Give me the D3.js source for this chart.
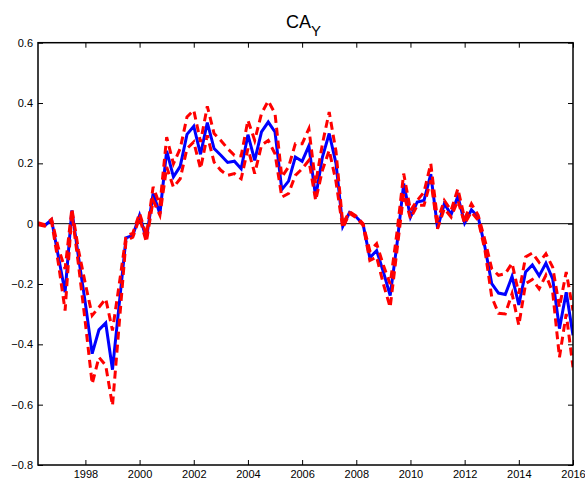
<!DOCTYPE html>
<html>
<head>
<meta charset="utf-8">
<script src="https://cdn.jsdelivr.net/npm/d3@7"></script>
<style>
  html, body { margin: 0; padding: 0; background: #fff; }
  svg { display: block; font-family: "Liberation Sans", Arial, Helvetica, sans-serif; }
</style>
</head>
<body>
<svg id="chart" width="585" height="481"></svg>
<script>
// Quarterly sample: first quarter 1996Q2, 80 quarters through 2016Q1
const firstQuarter = 1996.25;
const nQuarters = 80;
const quarters = d3.range(nQuarters).map(i => firstQuarter + i / 4);

// Point estimate of CA_Y
const estimate = [
  0.000, -0.006, 0.013, -0.108, -0.227, 0.044, -0.114, -0.265, -0.431, -0.352,
  -0.329, -0.484, -0.265, -0.047, -0.039, 0.028, -0.050, 0.100, 0.033, 0.241,
  0.155, 0.190, 0.296, 0.323, 0.230, 0.335, 0.249, 0.227, 0.203, 0.207,
  0.182, 0.295, 0.210, 0.304, 0.337, 0.304, 0.113, 0.141, 0.221, 0.207,
  0.258, 0.088, 0.221, 0.299, 0.200, -0.009, 0.037, 0.022, -0.002, -0.113,
  -0.089, -0.160, -0.238, -0.070, 0.133, 0.022, 0.072, 0.077, 0.164, -0.014,
  0.066, 0.030, 0.091, 0.002, 0.046, 0.022, -0.078, -0.199, -0.230, -0.235,
  -0.175, -0.269, -0.160, -0.137, -0.173, -0.131, -0.183, -0.348, -0.227, -0.370
];

// Upper band
const upperBand = [
  0.003, -0.003, 0.015, -0.080, -0.150, 0.050, -0.090, -0.200, -0.304, -0.277,
  -0.249, -0.354, -0.200, -0.040, -0.032, 0.035, -0.040, 0.122, 0.061, 0.287,
  0.199, 0.249, 0.354, 0.376, 0.271, 0.389, 0.299, 0.276, 0.249, 0.227,
  0.225, 0.343, 0.276, 0.365, 0.407, 0.365, 0.155, 0.188, 0.265, 0.265,
  0.315, 0.133, 0.265, 0.370, 0.240, 0.000, 0.040, 0.025, 0.000, -0.090,
  -0.066, -0.138, -0.200, -0.030, 0.166, 0.044, 0.077, 0.105, 0.199, 0.011,
  0.077, 0.044, 0.116, 0.017, 0.066, 0.028, -0.055, -0.149, -0.171, -0.166,
  -0.131, -0.232, -0.110, -0.097, -0.128, -0.100, -0.144, -0.277, -0.160, -0.288
];

// Lower band
const lowerBand = [
  -0.003, -0.008, 0.008, -0.130, -0.288, 0.035, -0.140, -0.330, -0.531, -0.443,
  -0.470, -0.603, -0.330, -0.055, -0.045, 0.020, -0.061, 0.077, 0.028, 0.188,
  0.121, 0.149, 0.249, 0.271, 0.182, 0.293, 0.204, 0.177, 0.160, 0.166,
  0.149, 0.249, 0.166, 0.260, 0.276, 0.232, 0.088, 0.100, 0.160, 0.182,
  0.210, 0.077, 0.177, 0.243, 0.140, -0.015, 0.035, 0.020, -0.005, -0.122,
  -0.110, -0.200, -0.277, -0.090, 0.100, 0.017, 0.061, 0.061, 0.144, -0.017,
  0.050, 0.022, 0.077, 0.000, 0.039, 0.011, -0.088, -0.243, -0.297, -0.299,
  -0.232, -0.337, -0.199, -0.185, -0.216, -0.171, -0.227, -0.443, -0.299, -0.476
];

const xTicks = [1998, 2000, 2002, 2004, 2006, 2008, 2010, 2012, 2014, 2016];
const yTicks = [-0.8, -0.6, -0.4, -0.2, 0, 0.2, 0.4, 0.6];

const plot = { left: 38, right: 573, top: 42.7, bottom: 465 };

const svg = d3.select("#chart");

const x = d3.scaleLinear().domain([firstQuarter, 2016]).range([plot.left, plot.right]);
const y = d3.scaleLinear().domain([-0.8, 0.6]).range([plot.bottom, plot.top]);

const fmtY = d => d === 0 ? "0" : d3.format(".1f")(d);

// Axes with inward ticks on all four sides
const gBottom = svg.append("g")
  .attr("transform", `translate(0,${plot.bottom})`)
  .call(d3.axisBottom(x).tickValues(xTicks).tickFormat(d3.format("d"))
    .tickSizeInner(-5).tickSizeOuter(0).tickPadding(5));
const gTop = svg.append("g")
  .attr("transform", `translate(0,${plot.top})`)
  .call(d3.axisTop(x).tickValues(xTicks).tickFormat("")
    .tickSizeInner(-5).tickSizeOuter(0));
const gLeft = svg.append("g")
  .attr("transform", `translate(${plot.left},0)`)
  .call(d3.axisLeft(y).tickValues(yTicks).tickFormat(fmtY)
    .tickSizeInner(-5).tickSizeOuter(0).tickPadding(5));
const gRight = svg.append("g")
  .attr("transform", `translate(${plot.right},0)`)
  .call(d3.axisRight(y).tickValues(yTicks).tickFormat("")
    .tickSizeInner(-5).tickSizeOuter(0));

[gBottom, gTop, gLeft, gRight].forEach(g => {
  g.select(".domain").remove();
  g.selectAll(".tick line").attr("stroke", "#000").attr("stroke-width", 1);
  g.selectAll(".tick text")
    .attr("fill", "#000")
    .style("font-size", "11px")
    .style("font-family", "'Liberation Sans', Arial, sans-serif");
});

// Zero reference line
svg.append("line")
  .attr("x1", plot.left).attr("x2", plot.right)
  .attr("y1", y(0)).attr("y2", y(0))
  .attr("stroke", "#000").attr("stroke-width", 1);

const line = d3.line()
  .x((d, i) => x(quarters[i]))
  .y(d => y(d));

const clip = svg.append("clipPath").attr("id", "plotClip")
  .append("rect")
  .attr("x", plot.left).attr("y", plot.top)
  .attr("width", plot.right - plot.left).attr("height", plot.bottom - plot.top);

const lines = svg.append("g").attr("clip-path", "url(#plotClip)");

lines.append("path")
  .datum(estimate)
  .attr("d", line)
  .attr("fill", "none")
  .attr("stroke", "#0000ff")
  .attr("stroke-width", 3)
  .attr("stroke-linejoin", "miter");

[upperBand, lowerBand].forEach(band => {
  lines.append("path")
    .datum(band)
    .attr("d", line)
    .attr("fill", "none")
    .attr("stroke", "#ff0000")
    .attr("stroke-width", 3)
    .attr("stroke-dasharray", "8,5");
});

// Plot box
svg.append("rect")
  .attr("x", plot.left).attr("y", plot.top)
  .attr("width", plot.right - plot.left).attr("height", plot.bottom - plot.top)
  .attr("fill", "none")
  .attr("stroke", "#000")
  .attr("stroke-width", 1.5);

// Title with subscript
const title = svg.append("text")
  .attr("x", (plot.left + plot.right) / 2 - 2)
  .attr("y", 28)
  .attr("text-anchor", "middle")
  .style("font-size", "18px")
  .attr("fill", "#000");
title.append("tspan").text("CA");
title.append("tspan").attr("dy", 8).style("font-size", "15px").text("Y");
</script>
</body>
</html>
